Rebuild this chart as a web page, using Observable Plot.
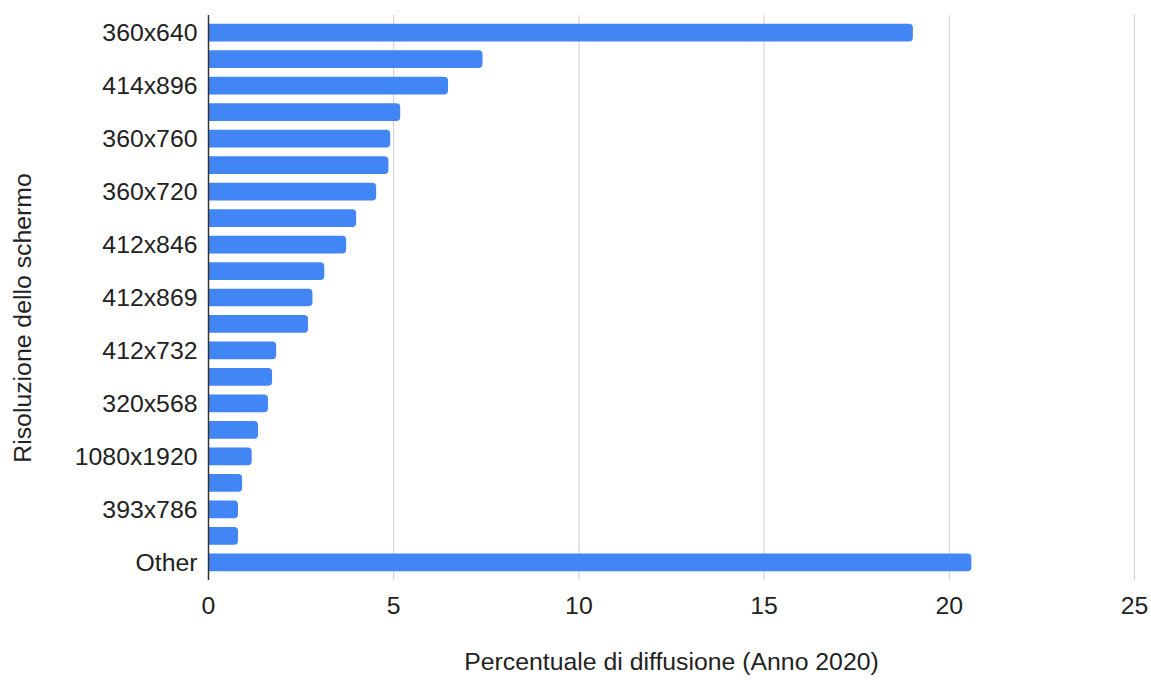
<!DOCTYPE html>
<html>
<head>
<meta charset="utf-8">
<script src="https://cdn.jsdelivr.net/npm/d3@7"></script>
<script src="https://cdn.jsdelivr.net/npm/@observablehq/plot@0.6"></script>
<style>
  html, body { margin: 0; padding: 0; background: #fff; }
  #chart svg { display: block; }
</style>
</head>
<body>
<div id="chart"></div>
<script>
// Screen resolutions, ordered as listed (only every other one gets a tick label)
const resolutions = [
  "360x640", "375x667", "414x896", "360x780", "360x760", "360x800", "360x720",
  "414x736", "412x846", "412x915", "412x869", "375x812", "412x732", "360x740",
  "320x568", "412x892", "1080x1920", "412x883", "393x786", "360x747", "Other"
];
// Share of usage (%), year 2020
const shares = [
  19.03, 7.41, 6.48, 5.19, 4.92, 4.87, 4.54,
  4.00, 3.73, 3.14, 2.82, 2.70, 1.84, 1.73,
  1.62, 1.35, 1.18, 0.92, 0.81, 0.81, 20.61
];
const xTicks = [0, 5, 10, 15, 20, 25];
const yTickLabels = resolutions.filter((d, i) => i % 2 === 0);
const xTitle = "Percentuale di diffusione (Anno 2020)";
const yTitle = "Risoluzione dello schermo";

const data = resolutions.map((r, i) => ({resolution: r, share: shares[i]}));

const textColor = "#222";
const fs = 24.8;

const chart = Plot.plot({
  width: 1151,
  height: 680,
  marginLeft: 208,
  marginRight: 17,
  marginTop: 15,
  marginBottom: 100,
  style: {fontFamily: "'Liberation Sans', Arial, sans-serif", fontSize: fs + "px", color: textColor, background: "#fff"},
  x: {domain: [0, 25], ticks: xTicks, label: null},
  y: {domain: resolutions, label: null, padding: 0.33, round: false},
  marks: [
    Plot.gridX(xTicks.filter(d => d > 0), {stroke: "#cccccc", strokeOpacity: 1, strokeWidth: 1}),
    Plot.barX(data, {x: "share", y: "resolution", fill: "#4285f4", rx2: 4}),
    Plot.ruleX([0], {stroke: "#333", strokeWidth: 1.5}),
    Plot.axisX(xTicks, {tickSize: 0, tickPadding: 16, fill: textColor, fontSize: fs, label: null}),
    Plot.axisY(yTickLabels, {tickSize: 0, tickPadding: 11, fill: textColor, fontSize: fs, label: null}),
    Plot.text([xTitle], {frameAnchor: "bottom", dy: 89, fill: textColor, fontSize: fs}),
    Plot.text([yTitle], {frameAnchor: "left", textAnchor: "middle", rotate: -90, dx: -185, dy: 20, fill: textColor, fontSize: fs})
  ]
});
document.getElementById("chart").appendChild(chart);
</script>
</body>
</html>
